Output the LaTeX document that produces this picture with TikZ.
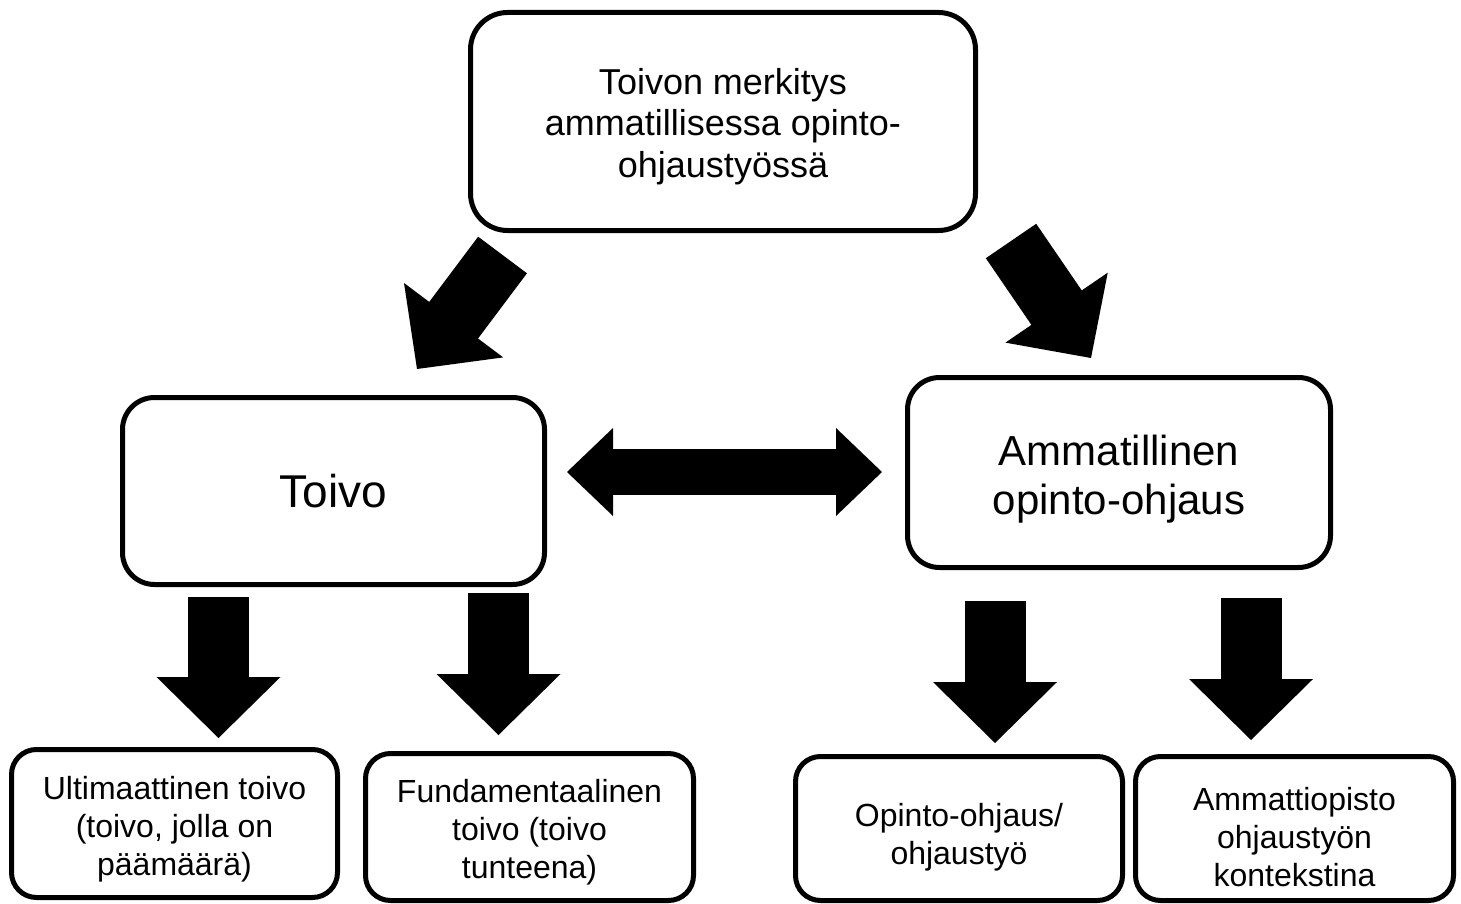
\documentclass[tikz,border=0pt]{standalone}
\usepackage{fontspec}
\setmainfont{Liberation Sans}
\usepackage{tikz}
\usetikzlibrary{arrows.meta}

\begin{document}
\begin{tikzpicture}[x=1pt,y=1pt,yscale=-1,xscale=1,
  laatikko/.style={draw, line width=5pt, align=center, inner sep=0pt},
  nuoli/.style={line width=61pt, line cap=rect, shorten <=30.5pt, -{Triangle[length=61pt,width=124pt,line width=0pt]}},
  tuplanuoli/.style={line width=46pt, {Triangle[length=46pt,width=88pt,line width=0pt]}-{Triangle[length=46pt,width=88pt,line width=0pt]}}]
\useasboundingbox (0,0) rectangle (1461,904);
%Shape: Rounded Rect [id:ylin]
\node [laatikko, minimum width=505, minimum height=218, rounded corners=37pt, font=\fontsize{36}{41.4}\selectfont] (ylin) at (723,121.5) {\rule{0pt}{36pt}Toivon merkitys\\ammatillisessa opinto-\\ohjaustyössä};
%Shape: Rounded Rect [id:toivo]
\node [laatikko, minimum width=422, minimum height=187, rounded corners=32pt, font=\fontsize{46}{53}\selectfont] (toivo) at (333.5,491) {Toivo};
%Shape: Rounded Rect [id:ammat]
\node [laatikko, minimum width=423, minimum height=190, rounded corners=32pt, font=\fontsize{42}{48.3}\selectfont] (ammat) at (1119,472.5) {\rule{0pt}{44pt}Ammatillinen\\opinto-ohjaus};
%Shape: Rounded Rect [id:ulti]
\node [laatikko, minimum width=326, minimum height=148, rounded corners=25pt, font=\fontsize{32}{38}\selectfont] (ulti) at (174.5,823.5) {\rule{0pt}{35pt}Ultimaattinen toivo\\(toivo, jolla on\\päämäärä)};
%Shape: Rounded Rect [id:funda]
\node [laatikko, minimum width=328, minimum height=147, rounded corners=25pt, font=\fontsize{32}{38}\selectfont] (funda) at (529.5,827) {\rule{0pt}{33pt}Fundamentaalinen\\toivo (toivo\\tunteena)};
%Shape: Rounded Rect [id:opinto]
\node [laatikko, minimum width=327, minimum height=144, rounded corners=25pt, font=\fontsize{32}{38}\selectfont] (opinto) at (959,828.5) {\rule{0pt}{40pt}Opinto-ohjaus/\\ohjaustyö};
%Shape: Rounded Rect [id:opisto]
\node [laatikko, minimum width=318, minimum height=144, rounded corners=25pt, font=\fontsize{32}{38}\selectfont] (opisto) at (1294.5,828.5) {\rule{0pt}{40pt}Ammattiopisto\\ohjaustyön\\kontekstina};

%Straight Lines [id:vasen]
\coordinate (vasenA) at (502.5,255);
\coordinate (vasenB) at (417,369);
\draw [nuoli] (vasenA) -- (vasenB);
%Straight Lines [id:oikea]
\coordinate (oikeaA) at (1011,241);
\coordinate (oikeaB) at (1091,358);
\draw [nuoli] (oikeaA) -- (oikeaB);
%Straight Lines [id:tupla]
\coordinate (tuplaA) at (567,472);
\coordinate (tuplaB) at (882,472);
\draw [tuplanuoli] (tuplaA) -- (tuplaB);
%Straight Lines [id:alas1]
\coordinate (alas1A) at (218.5,597);
\coordinate (alas1B) at (218.5,738);
\draw [nuoli] (alas1A) -- (alas1B);
%Straight Lines [id:alas2]
\coordinate (alas2A) at (498.5,593);
\coordinate (alas2B) at (498.5,735);
\draw [nuoli] (alas2A) -- (alas2B);
%Straight Lines [id:alas3]
\coordinate (alas3A) at (995,601);
\coordinate (alas3B) at (995,743);
\draw [nuoli] (alas3A) -- (alas3B);
%Straight Lines [id:alas4]
\coordinate (alas4A) at (1251,598);
\coordinate (alas4B) at (1251,740);
\draw [nuoli] (alas4A) -- (alas4B);
\end{tikzpicture}
\end{document}
